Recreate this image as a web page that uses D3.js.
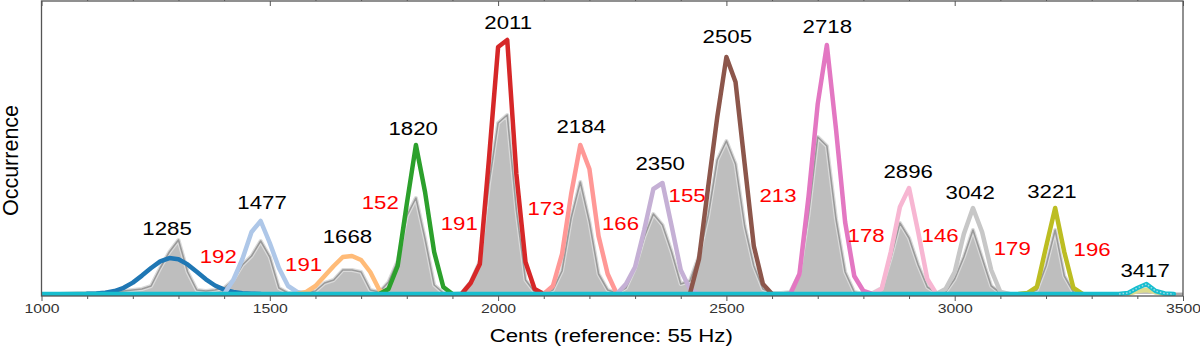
<!DOCTYPE html>
<html><head><meta charset="utf-8">
<script src="https://cdn.jsdelivr.net/npm/d3@7"></script>
<style>
body{margin:0;background:#fff}
svg{display:block}
text{font-family:"Liberation Sans",Arial,Helvetica,sans-serif}
</style>
</head><body>
<svg id="chart" width="1200" height="349"></svg>
<script>
// ---------- DATA ----------
// Pitch histogram (gray), bins every 20 cents from 1000 to 3500
const histBinStart = 1000;
const histBinWidth = 20;
const histValues = [
  0,0,0,0.5,1,1,1,1.5,2,3,
  4,5,8,26,42,54,22,4,3,4,
  6,14,29,38,53,37,6,1,1,2,
  3,11,14,24,24,22,4,2,12,33,
  78,96,55,9,1,0,1,12,33,110,
  171,179,84,14,2,1,4,23,76,112,
  72,20,4,1,6,26,57,80,69,42,
  10,13,38,78,134,153,130,68,28,5,
  1,1,2,20,80,157,148,75,22,2,
  0,1,6,36,71,56,29,7,1,2,
  15,37,64,36,8,1,0,0,1,4,
  28,64,18,2,0,0,0,0,0,1,
  3,5,1,0,0,0
];

// Fitted peak curves: [cents, occurrence]
const curve1285 = [[1100,0.2],[1120,0.6],[1140,1.3],[1160,3],[1180,6.2],[1200,11.4],[1220,18.4],[1240,26],[1260,32.6],[1280,35.9],[1300,34.7],[1320,29.6],[1340,22.2],[1360,14.7],[1380,8.5],[1400,4.4],[1420,2],[1440,0.8],[1460,0.3],[1480,0]];
const curve1477 = [[1400,0],[1420,14],[1440,35],[1460,62],[1480,73],[1500,51],[1520,26],[1540,8],[1560,2],[1580,0]];
const curve1668 = [[1560,0],[1580,2],[1600,8],[1620,18],[1640,28],[1660,37],[1680,38],[1700,34],[1720,22],[1740,4],[1760,0]];
const curve1820 = [[1740,0],[1760,5],[1780,28],[1800,90],[1820,149],[1840,102],[1860,42],[1880,7],[1900,0]];
const curve2011 = [[1920,0],[1940,11],[1960,30],[1980,135],[2000,247],[2020,254],[2040,120],[2060,32],[2080,5],[2100,0]];
const curve2184 = [[2100,0],[2120,8],[2140,40],[2160,100],[2180,149],[2200,125],[2220,58],[2240,20],[2260,0]];
const curve2350 = [[2260,0],[2280,10],[2300,27],[2320,64],[2340,105],[2360,111],[2380,68],[2400,24],[2420,5],[2440,0]];
const curve2505 = [[2420,0],[2440,35],[2460,107],[2480,177],[2500,237],[2520,212],[2540,130],[2560,48],[2580,10],[2600,0]];
const curve2718 = [[2640,0],[2660,20],[2680,98],[2700,190],[2720,249],[2740,165],[2760,72],[2780,18],[2800,3],[2820,0]];
const curve2896 = [[2820,0],[2840,5],[2860,42],[2880,87],[2900,106],[2920,62],[2940,15],[2960,0]];
const curve3042 = [[2960,0],[2980,5],[3000,22],[3020,60],[3040,86],[3060,62],[3080,24],[3100,2],[3120,0]];
const curve3221 = [[3140,0],[3160,1],[3180,7],[3200,47],[3220,86],[3240,42],[3260,6],[3280,0]];
const curve3417b = [[3380,0],[3400,3],[3420,4],[3440,2],[3460,0]];
const curve3417 = [[1000,0],[3360,0],[3380,1],[3400,6],[3420,10],[3440,3],[3460,0.5],[3480,0]];

// Peak labels (cents) and their annotation anchors (data coords)
const peakLabels = ["1285","1477","1668","1820","2011","2184","2350","2505","2718","2896","3042","3221","3417"];
const peakLabelX = [1275,1483,1670,1814,2022,2182,2355,2502,2721,2898,3034,3213,3417];
const peakLabelY = [59,85,51,159,265,161,124,251,261,116,95,96,17];

// Interval labels (cents between neighbouring peaks)
const intervalLabels = ["192","191","152","191","173","166","155","213","178","146","179","196"];
const intervalX = [1387,1574,1742,1915,2105,2268,2414,2613,2806,2968,3126,3301];
const intervalY = [31,23,85,64,79,64,92,92,52,52,39,38];

const xMajorTicks = [1000,1500,2000,2500,3000,3500];
const xMinorTicks = [1100,1200,1300,1400,1600,1700,1800,1900,2100,2200,2300,2400,2600,2700,2800,2900,3100,3200,3300,3400];
const xDomain = [1000,3500];
const yDomain = [0,293];

// ---------- STYLE ----------
const curveList = [
  {data: curve1285, color:"#1f77b4"},
  {data: curve1477, color:"#aec7e8"},
  {data: curve1668, color:"#ffbb78"},
  {data: curve1820, color:"#2ca02c"},
  {data: curve2011, color:"#d62728"},
  {data: curve2184, color:"#ff9896"},
  {data: curve2350, color:"#c5b0d5"},
  {data: curve2505, color:"#8c564b"},
  {data: curve2718, color:"#e377c2"},
  {data: curve2896, color:"#f7b6d2"},
  {data: curve3042, color:"#c7c7c7"},
  {data: curve3221, color:"#bcbd22"},
  {data: curve3417b, color:"#dbdb8d"},
  {data: curve3417, color:"#17becf"}
];

const pLeft = 41.5, pRight = 1183, pTop = 1, pBottom = 296;
const svg = d3.select("#chart");
const x = d3.scaleLinear().domain(xDomain).range([pLeft, pRight]);
const y = d3.scaleLinear().domain(yDomain).range([294, 1]);
const stretch = "scale(1.17,1)";

svg.append("defs").append("clipPath").attr("id","plotclip")
  .append("rect").attr("x",pLeft).attr("y",pTop).attr("width",pRight-pLeft).attr("height",pBottom-pTop);

const plot = svg.append("g").attr("clip-path","url(#plotclip)");

const hist = histValues.map((v,i)=>[histBinStart + i*histBinWidth, v]);
const area = d3.area().x(d=>x(d[0])).y0(y(0)).y1(d=>y(d[1]));
const line = d3.line().x(d=>x(d[0])).y(d=>y(d[1]));

plot.append("path").datum(hist).attr("d",area).attr("fill","#bebebe");
plot.append("path").datum(hist).attr("d",line).attr("fill","none")
  .attr("stroke","#dadada").attr("stroke-width",4).attr("stroke-linejoin","round");
plot.append("path").datum(hist).attr("d",line).attr("fill","none")
  .attr("stroke","#9a9a9a").attr("stroke-width",1.6).attr("stroke-linejoin","round");

curveList.forEach(c=>{
  plot.append("path").datum(c.data).attr("d",line).attr("fill","none")
    .attr("stroke",c.color).attr("stroke-width",4.5)
    .attr("stroke-linejoin","round").attr("stroke-linecap","round");
});
// dotted highlight on last curve
plot.append("path").datum(curve3417.slice(1)).attr("d",line).attr("fill","none")
  .attr("stroke","#9edae5").attr("stroke-width",1.5).attr("stroke-dasharray","1.5,2");

// axes
const axisColor = "#555";
const gB = svg.append("g").attr("transform",`translate(0,${pBottom})`)
  .call(d3.axisBottom(x).tickValues(xMajorTicks).tickSize(5).tickPadding(2).tickFormat(d3.format("d")));
gB.select(".domain").remove();
gB.selectAll("line").attr("stroke",axisColor);
gB.selectAll("text").attr("font-size","13.5px").attr("fill","#333")
  .attr("font-family","Liberation Sans, Arial, sans-serif").attr("transform",stretch);
const gBm = svg.append("g").attr("transform",`translate(0,${pBottom})`)
  .call(d3.axisBottom(x).tickValues(xMinorTicks).tickSize(3).tickFormat(""));
gBm.select(".domain").remove();
gBm.selectAll("line").attr("stroke",axisColor);

const gT = svg.append("g").attr("transform",`translate(0,${pTop})`)
  .call(d3.axisBottom(x).tickValues(xMajorTicks).tickSize(5).tickFormat(""));
gT.select(".domain").remove();
gT.selectAll("line").attr("stroke",axisColor);
const gTm = svg.append("g").attr("transform",`translate(0,${pTop})`)
  .call(d3.axisTop(x).tickValues(xMinorTicks).tickSize(2).tickFormat(""));
gTm.select(".domain").remove();
gTm.selectAll("line").attr("stroke",axisColor);

svg.append("rect").attr("x",pLeft).attr("y",pTop).attr("width",pRight-pLeft).attr("height",pBottom-pTop)
  .attr("fill","none").attr("stroke",axisColor).attr("stroke-width",1.3);

// labels
svg.selectAll("text.peak").data(peakLabels).enter().append("text")
  .attr("class","peak")
  .attr("transform",(d,i)=>`translate(${x(peakLabelX[i])},${y(peakLabelY[i])}) ${stretch}`)
  .attr("text-anchor","middle").attr("font-size","19px").attr("fill","#000").text(d=>d);

svg.selectAll("text.interval").data(intervalLabels).enter().append("text")
  .attr("class","interval")
  .attr("transform",(d,i)=>`translate(${x(intervalX[i])},${y(intervalY[i])}) ${stretch}`)
  .attr("text-anchor","middle").attr("font-size","19px").attr("fill","#ff0000").text(d=>d);

svg.append("text").attr("transform",`translate(${(pLeft+pRight)/2 - 1},342) ${stretch}`)
  .attr("text-anchor","middle").attr("font-size","19px").attr("fill","#000")
  .text("Cents (reference: 55 Hz)");

svg.append("text").attr("transform","translate(18,160.5) rotate(-90)")
  .attr("text-anchor","middle").attr("font-size","21.5px").attr("fill","#000")
  .text("Occurrence");
</script>
</body></html>
